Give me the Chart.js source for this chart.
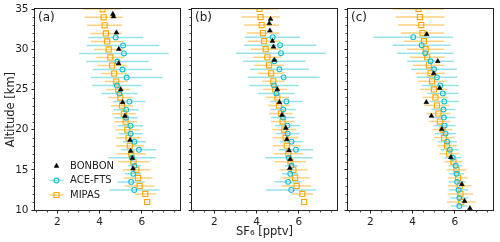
<!DOCTYPE html>
<html><head><meta charset="utf-8">
<script src="https://cdn.jsdelivr.net/npm/chart.js@4/dist/chart.umd.min.js"></script>
<style>
html,body{margin:0;padding:0;background:#fff;}
#wrap{position:relative;width:500px;height:242px;background:#fff;}
canvas{position:absolute;left:0;top:0;}
</style></head><body>
<div id="wrap">
<canvas id="ca" width="500" height="242"></canvas>
<canvas id="cb" width="500" height="242"></canvas>
<canvas id="cc" width="500" height="242"></canvas>
</div>
<script>
// ---- tick labels ----
const xTicks = [2, 4, 6];
const yTicks = [10, 15, 20, 25, 30, 35];
const panelLabels = ['(a)', '(b)', '(c)'];
const seriesNames = ['BONBON', 'ACE-FTS', 'MIPAS'];

// ---- MIPAS (1 km grid) ----
const mipasAlt = [35,34,33,32,31,30,29,28,27,26,25,24,23,22,21,20,19,18,17,16,15,14,13,12,11];
const mipasAB = [4.14,4.19,4.24,4.30,4.36,4.43,4.51,4.59,4.69,4.79,4.88,4.98,5.06,5.15,5.23,5.31,5.37,5.43,5.50,5.60,5.74,5.82,5.89,6.16,6.25];
const mipasErrAB = [0.9,0.9,0.83,0.76,0.77,0.7,0.66,0.69,0.63,0.54,0.57,0.55,0.53,0.56,0.55,0.58,0.6,0.66,0.7,0.74,0.66,0.68,0.7,0.5,0.0];
const mipasC = [4.28,4.35,4.41,4.47,4.54,4.62,4.69,4.77,4.85,4.92,5.01,5.08,5.15,5.22,5.29,5.42,5.49,5.63,5.73,5.93,6.08,6.15,6.23,6.26,6.30];
const mipasErrC = [1.2,1.16,1.1,1.02,0.96,0.88,0.82,0.74,0.7,0.68,0.65,0.61,0.59,0.57,0.51,0.47,0.47,0.47,0.47,0.43,0.47,0.47,0.55,0.6,0.68];

// ---- ACE-FTS (half-km grid) ----
const aceAltAB = [31.5,30.5,29.5,28.5,27.5,26.5,25.5,24.5,23.5,22.5,21.5,20.5,19.5,18.5,17.5,16.5,15.5,14.5,13.5,12.5];
const aceAB = [4.76,5.11,5.15,4.84,5.08,5.28,4.82,4.94,5.41,5.26,5.25,5.46,5.47,5.65,5.86,5.53,5.65,5.59,5.49,5.64];
const aceErrAB = [1.3,1.72,2.12,1.48,1.4,1.7,1.17,0.87,0.77,0.6,0.56,0.6,0.56,0.55,0.82,1.12,0.31,0.39,0.64,1.19];
const aceAltC = [31.5,30.5,29.5,28.5,27.5,26.5,25.5,24.5,23.5,22.5,21.5,20.5,19.5,18.5,17.5,16.5,15.5,14.5,13.5,12.5,11.5,10.5];
const aceC = [4.03,4.43,4.60,4.85,5.02,5.15,5.31,5.43,5.50,5.46,5.48,5.51,5.56,5.64,5.76,5.90,6.04,6.08,6.10,6.17,6.21,6.21];
const aceErrC = [1.88,1.37,1.33,1.1,1.08,0.96,0.88,0.74,0.7,0.57,0.55,0.52,0.5,0.45,0.42,0.4,0.3,0.35,0.4,0.45,0.42,0.38];

// ---- BONBON (balloon samples) ----
const bonAltA = [34.4,34.1,32.1,30.05,28.25,25.0,23.4,21.7,18.7,17.35,16.45,15.15];
const bonA = [4.63,4.66,4.80,4.91,4.90,5.00,5.09,5.20,5.44,5.47,5.55,5.58];
const bonAltB = [33.75,33.2,32.3,31.0,30.3,28.65,25.0,23.4,21.8,20.2,18.8,17.4,16.3,15.2];
const bonB = [4.66,4.60,4.63,4.75,4.80,4.84,4.98,5.08,5.20,5.38,5.43,5.53,5.59,5.57];
const bonAltC = [31.85,28.5,27.0,25.15,23.4,21.7,20.05,16.55,13.2,11.1,10.2];
const bonC = [4.67,5.19,5.00,5.28,4.65,4.89,5.38,5.81,6.33,6.46,6.71];

const FONT = "'DejaVu Sans', sans-serif";
const INK = '#222';
const ACE_COL = '#17becf', ACE_ERR = 'rgba(23,190,207,0.45)';
const MIP_COL = '#ffa500', MIP_ERR = 'rgba(255,165,0,0.5)';

function pts(xs, ys) { return xs.map((v, i) => ({x: v, y: ys[i]})); }

const errorBarPlugin = {
  id: 'errbars',
  beforeDatasetsDraw(chart) {
    const {ctx, chartArea: a, scales: {x, y}} = chart;
    ctx.save();
    ctx.beginPath(); ctx.rect(a.left, a.top, a.right - a.left, a.bottom - a.top); ctx.clip();
    chart.data.datasets.forEach(ds => {
      if (!ds.errors) return;
      ctx.strokeStyle = ds.errorColor; ctx.lineWidth = 1.5;
      ds.data.forEach((p, i) => {
        const e = ds.errors[i]; if (!e) return;
        const yy = y.getPixelForValue(p.y);
        ctx.beginPath();
        ctx.moveTo(x.getPixelForValue(p.x - e), yy);
        ctx.lineTo(x.getPixelForValue(p.x + e), yy);
        ctx.stroke();
      });
    });
    ctx.restore();
  }
};

const framePlugin = {
  id: 'frame',
  afterDraw(chart, args, opts) {
    const {ctx, chartArea: a, scales: {x, y}} = chart;
    ctx.save();
    ctx.strokeStyle = INK; ctx.lineWidth = 1;
    const L = Math.round(a.left) - 0.5, R = Math.round(a.right) + 0.5;
    const T = Math.round(a.top) - 0.5, B = Math.round(a.bottom) + 0.5;
    ctx.strokeRect(L, T, R - L, B - T);
    // minor ticks
    ctx.lineWidth = 0.8;
    ctx.beginPath();
    for (let v = Math.ceil(x.min * 2) / 2; v <= x.max + 1e-9; v += 0.5) {
      if (xTicks.includes(v)) continue;
      const px = Math.round(x.getPixelForValue(v)) + 0.5;
      ctx.moveTo(px, B); ctx.lineTo(px, B + 2);
    }
    for (let v = Math.ceil(y.min); v <= y.max; v += 1) {
      if (yTicks.includes(v)) continue;
      const py = Math.round(y.getPixelForValue(v)) + 0.5;
      ctx.moveTo(L, py); ctx.lineTo(L - 2, py);
    }
    ctx.stroke();
    // panel label
    ctx.fillStyle = INK;
    ctx.font = '12px ' + FONT;
    ctx.textBaseline = 'middle'; ctx.textAlign = 'left';
    ctx.fillText(opts.label, a.left + 3, a.top + 9);
    // legend
    if (opts.legend) {
      const rows = [166, 180.5, 195];
      const cx = 56.5;
      chart.data.datasets.forEach((ds, i) => {
        const yy = rows[i];
        if (ds.errorColor) {
          ctx.strokeStyle = ds.errorColor; ctx.lineWidth = 1.5;
          ctx.beginPath(); ctx.moveTo(cx - 7, yy); ctx.lineTo(cx + 7, yy); ctx.stroke();
        }
        ctx.fillStyle = ds.backgroundColor; ctx.strokeStyle = ds.borderColor; ctx.lineWidth = ds.borderWidth;
        Chart.helpers.drawPoint(ctx, {pointStyle: ds.pointStyle, radius: ds.pointRadius, borderWidth: ds.borderWidth, rotation: 0}, cx, yy);
        ctx.fillStyle = INK;
        ctx.font = '10px ' + FONT;
        ctx.fillText(ds.label, 70, yy);
      });
    }
    ctx.restore();
  }
};

function makeChart(id, idx, left, right, bAlt, bVal, aAlt, aVal, aErr, mVal, mErr) {
  const first = idx === 0, middle = idx === 1;
  const yW = 35;
  return new Chart(document.getElementById(id), {
    type: 'scatter',
    data: {
      datasets: [
        {label: seriesNames[0], data: pts(bVal, bAlt), pointStyle: 'triangle', pointRadius: 2.8,
         backgroundColor: '#000', borderColor: '#000', borderWidth: 0.5},
        {label: seriesNames[1], data: pts(aVal, aAlt), errors: aErr, errorColor: ACE_ERR,
         pointStyle: 'circle', pointRadius: 2.4, backgroundColor: 'rgba(0,0,0,0)', borderColor: ACE_COL, borderWidth: 1.1},
        {label: seriesNames[2], data: pts(mVal, mipasAlt), errors: mErr, errorColor: MIP_ERR,
         pointStyle: 'rect', pointRadius: 3.6, backgroundColor: 'rgba(0,0,0,0)', borderColor: MIP_COL, borderWidth: 1.1}
      ]
    },
    options: {
      responsive: false, animation: false, events: [], devicePixelRatio: 1,
      layout: {padding: {left: left - yW, right: 500 - right, top: 9, bottom: 0}},
      plugins: {legend: {display: false}, tooltip: {enabled: false},
                frame: {label: panelLabels[idx], legend: first}},
      scales: {
        x: {type: 'linear', min: 0.95, max: 7.8,
            afterBuildTicks: s => { s.ticks = xTicks.map(v => ({value: v})); },
            afterFit: s => { s.height = 32; },
            grid: {drawOnChartArea: false, drawTicks: true, tickLength: 3.5, tickColor: INK, tickWidth: 1},
            border: {display: false},
            ticks: {font: {family: FONT, size: 10.5}, color: INK, padding: 2, maxRotation: 0, autoSkip: false},
            title: {display: middle, text: 'SF\u2086 [pptv]', font: {family: FONT, size: 11.5}, color: INK,
                    padding: {top: 0, bottom: 3}}},
        y: {type: 'linear', min: 10, max: 35,
            afterBuildTicks: s => { s.ticks = yTicks.map(v => ({value: v})); },
            afterFit: s => { s.width = yW; },
            grid: {drawOnChartArea: false, drawTicks: true, tickLength: 3.5, tickColor: INK, tickWidth: 1},
            border: {display: false},
            ticks: {display: first, font: {family: FONT, size: 10.5}, color: INK, padding: 3},
            title: {display: first, text: 'Altitude [km]', font: {family: FONT, size: 11.5}, color: INK,
                    padding: {top: 4, bottom: 0}}}
      }
    },
    plugins: [errorBarPlugin, framePlugin]
  });
}

makeChart('ca', 0, 35, 180, bonAltA, bonA, aceAltAB, aceAB, aceErrAB, mipasAB, mipasErrAB);
makeChart('cb', 1, 192, 337, bonAltB, bonB, aceAltAB, aceAB, aceErrAB, mipasAB, mipasErrAB);
makeChart('cc', 2, 348, 493, bonAltC, bonC, aceAltC, aceC, aceErrC, mipasC, mipasErrC);
</script>
</body></html>
